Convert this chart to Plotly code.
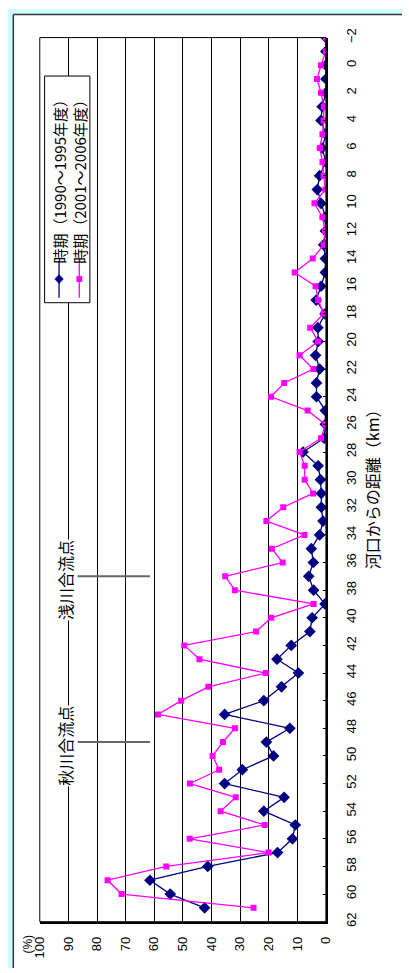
import plotly.graph_objects as go

W, H = 409, 973

# ---- data ----
km = [-2, -1, 0, 1, 2, 3, 4, 5, 6, 7, 8, 9, 10, 11, 12, 13, 14, 15, 16, 17, 18, 19,
      20, 21, 22, 23, 24, 25, 26, 27, 28, 29, 30, 31, 32, 33, 34, 35, 36, 37, 38, 39,
      40, 41, 42, 43, 44, 45, 46, 47, 48, 49, 50, 51, 52, 53, 54, 55, 56, 57, 58, 59,
      60, 61]
period1 = [0, 0, 0, 0, 0, 1.3, 1.7, 0, 1.3, 0, 2.2, 3.0, 1.7, 0.2, 0.2, 0.8, 0.2, 0.2,
           1.7, 3.4, 0.3, 2.8, 2.7, 3.6, 2.2, 3.3, 3.3, 0.2, 0.2, 0.6, 8.0, 2.7, 1.9,
           1.6, 1.6, 1.0, 2.2, 5.1, 4.4, 6.0, 4.3, 0.3, 4.8, 5.6, 12.1, 17.1, 9.6, 15.5,
           21.7, 35.4, 12.6, 20.8, 18.3, 29.2, 35.4, 14.6, 21.7, 10.7, 11.7, 16.9, 41.3,
           61.5, 54.4, 42.4]
period2 = [0, 0, 1.7, 3.1, 1.7, 0.7, 0.8, 1.2, 2.1, 1.2, 0.8, 0.2, 4.0, 1.2, 0.3, 0.8,
           4.6, 10.9, 3.6, 2.7, 0.8, 5.5, 2.7, 9.2, 4.4, 14.6, 19.2, 6.4, 0.2, 1.7, 9.2,
           7.4, 7.4, 4.5, 14.9, 20.8, 7.5, 18.9, 15.1, 35.2, 31.8, 4.3, 19.1, 24.4, 49.5,
           44.2, 21.0, 41.1, 50.6, 58.7, 31.8, 36.0, 39.6, 37.3, 47.5, 31.5, 36.8, 21.4,
           47.6, 20.0, 55.8, 76.3, 71.4, 25.3]
series_names = ["時期（1990～1995年度）", "時期（2001～2006年度）"]
y_ticks = [-2, 0, 2, 4, 6, 8, 10, 12, 14, 16, 18, 20, 22, 24, 26, 28, 30, 32, 34, 36,
           38, 40, 42, 44, 46, 48, 50, 52, 54, 56, 58, 60, 62]
x_ticks = [0, 10, 20, 30, 40, 50, 60, 70, 80, 90, 100]
confluences = [("浅川合流点", 37), ("秋川合流点", 49)]

BLUE = "#000080"
MAG = "#FF00FF"
FONT = "Liberation Sans, Arial, Noto Sans CJK JP"
JFONT = "Noto Sans CJK JP"


def X(px):
    return px / W


def Y(py):
    return 1 - py / H


fig = go.Figure()
fig.add_trace(go.Scatter(x=period1, y=km, mode="lines+markers", name=series_names[0],
                         line=dict(color=BLUE, width=1.3),
                         marker=dict(symbol="diamond", size=9, color=BLUE),
                         showlegend=False))
fig.add_trace(go.Scatter(x=period2, y=km, mode="lines+markers", name=series_names[1],
                         line=dict(color=MAG, width=1.3),
                         marker=dict(symbol="square", size=6, color=MAG),
                         showlegend=False))

px_left, px_right, py_top, py_bot = 33, 330, 29, 926

fig.update_layout(
    width=W, height=H,
    margin=dict(l=0, r=0, t=0, b=0),
    paper_bgcolor="white", plot_bgcolor="white",
    hovermode=False,
    font=dict(family=FONT, size=13, color="black"),
    xaxis=dict(domain=[X(px_left), X(px_right)], range=[100, 0],
               tickvals=x_ticks, tickangle=-90, showgrid=True,
               gridcolor="black", gridwidth=1, zeroline=False,
               showline=True, linecolor="black", linewidth=2,
               ticks="", ticklabelstandoff=8, fixedrange=True,
               tickfont=dict(family=FONT, size=13, color="black")),
    yaxis=dict(domain=[Y(py_bot), Y(py_top)], range=[62, -2], side="right",
               tickvals=y_ticks, tickangle=-90, showgrid=False, zeroline=False,
               showline=True, linecolor="black", linewidth=2,
               ticks="inside", ticklen=3, tickcolor="black",
               ticklabelstandoff=12, fixedrange=True,
               tickfont=dict(family=FONT, size=13, color="black")),
)

shapes = []
# cyan outer strips
shapes.append(dict(type="rect", xref="paper", yref="paper", x0=0, x1=1, y0=Y(5), y1=1,
                   fillcolor="#CCFFFF", line=dict(width=0), layer="below"))
shapes.append(dict(type="rect", xref="paper", yref="paper", x0=0, x1=X(5), y0=0, y1=1,
                   fillcolor="#CCFFFF", line=dict(width=0), layer="below"))
shapes.append(dict(type="line", xref="paper", yref="paper", x0=X(5.5), x1=1, y0=Y(5.5), y1=Y(5.5),
                   line=dict(color="#333333", width=1.5)))
shapes.append(dict(type="line", xref="paper", yref="paper", x0=X(5.5), x1=X(5.5), y0=0, y1=Y(5.5),
                   line=dict(color="#333333", width=1.5)))
# plot frame
shapes.append(dict(type="rect", xref="paper", yref="paper", x0=X(px_left), x1=X(px_right),
                   y0=Y(py_bot), y1=Y(py_top), line=dict(color="black", width=1)))

# confluence markers
for label, pos in confluences:
    shapes.append(dict(type="line", xref="x", yref="y", x0=88, x1=61.5, y0=pos, y1=pos,
                       line=dict(color="#666666", width=2)))

# legend box
lx0, lx1, ly0, ly1 = 38, 85, 68, 298
shapes.append(dict(type="rect", xref="paper", yref="paper", x0=X(lx0), x1=X(lx1),
                   y0=Y(ly1), y1=Y(ly0), fillcolor="white",
                   line=dict(color="black", width=1), layer="above"))
legend_x = [53, 74]
for i, (cx, col) in enumerate(zip(legend_x, [BLUE, MAG])):
    shapes.append(dict(type="line", xref="paper", yref="paper", x0=X(cx), x1=X(cx),
                       y0=Y(293), y1=Y(256), line=dict(color=col, width=1.3), layer="above"))
    my = 274
    if i == 0:
        r = 4.5
        path = (f"M {X(cx)},{Y(my - r)} L {X(cx + r)},{Y(my)} L {X(cx)},{Y(my + r)} "
                f"L {X(cx - r)},{Y(my)} Z")
        shapes.append(dict(type="path", xref="paper", yref="paper", path=path,
                           fillcolor=col, line=dict(color=col, width=0.5), layer="above"))
    else:
        r = 3
        shapes.append(dict(type="rect", xref="paper", yref="paper", x0=X(cx - r), x1=X(cx + r),
                           y0=Y(my + r), y1=Y(my - r), fillcolor=col,
                           line=dict(color=col, width=0), layer="above"))
fig.update_layout(shapes=shapes)

annotations = []
for i, cx in enumerate(legend_x):
    annotations.append(dict(xref="paper", yref="paper", x=X(cx), y=Y(171), text=series_names[i],
                            textangle=-90, showarrow=False, xanchor="center", yanchor="middle",
                            font=dict(family=JFONT, size=15, color="black")))
for label, pos in confluences:
    annotations.append(dict(xref="x", yref="y", x=91, y=pos + 0.3, text=label, textangle=-90,
                            showarrow=False, xanchor="center", yanchor="middle",
                            bgcolor="white", borderpad=0,
                            font=dict(family=JFONT, size=16, color="black")))
annotations.append(dict(xref="paper", yref="paper", x=X(378), y=Y(483), text="河口からの距離（km）",
                        textangle=-90, showarrow=False, xanchor="center", yanchor="middle",
                        font=dict(family=JFONT, size=16, color="black")))
annotations.append(dict(xref="paper", yref="paper", x=X(21), y=Y(949), text="(%)",
                        textangle=-90, showarrow=False, xanchor="center", yanchor="middle",
                        font=dict(family=FONT, size=12, color="black")))
fig.update_layout(annotations=annotations)

fig.write_html("out.html",
               config={"displayModeBar": False, "staticPlot": True},
               post_script="document.body.style.margin='0';document.body.style.overflow='hidden';")
